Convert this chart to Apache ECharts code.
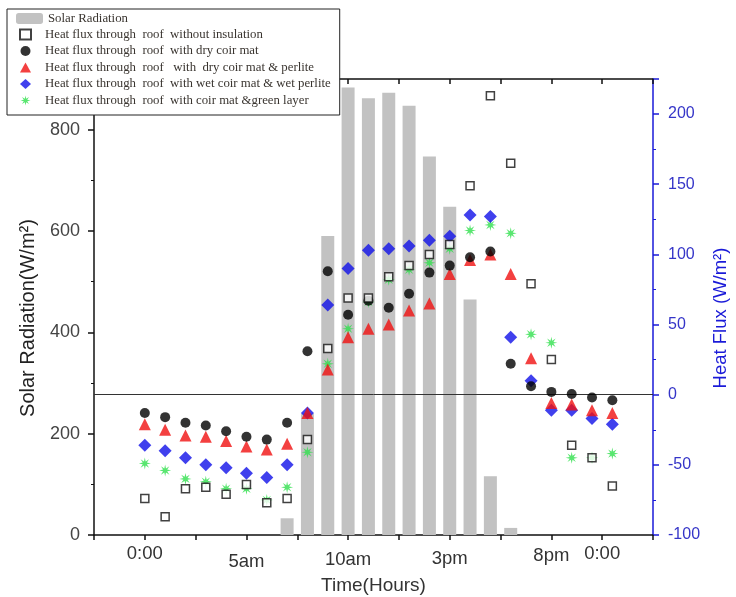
<!DOCTYPE html>
<html>
<head>
<meta charset="utf-8">
<script src="https://cdn.jsdelivr.net/npm/echarts@6/dist/echarts.min.js"></script>
<style>
  html, body { margin: 0; padding: 0; background: #fff; }
  #chart { width: 736px; height: 597px; }
</style>
</head>
<body>
<div id="chart"></div>
<script>
  // hour of day for every reading
  const hours = [0, 1, 2, 3, 4, 5, 6, 7, 8, 9, 10, 11, 12, 13, 14, 15, 16, 17, 18, 19, 20, 21, 22, 23]
  // solar radiation (W/m2)
  const solarRadiation = [0, 0, 0, 0, 0, 0, 0, 33, 240, 590, 883, 862, 873, 847, 747, 648, 465, 116, 14, 0, 0, 0, 0, 0]
  // heat flux (W/m2)
  const fluxNoInsulation = [-74, -87, -67, -66, -71, -64, -77, -74, -32, 33, 69, 69, 84, 92, 100, 107, 149, 213, 165, 79, 25, -36, -45, -65]
  const fluxDryCoir = [-13, -16, -20, -22, -26, -30, -32, -20, 31, 88, 57, 67, 62, 72, 87, 92, 98, 102, 22, 6, 2, 0.5, -2, -4]
  const fluxDryCoirPerlite = [-21, -25, -29, -30, -33, -37, -39, -35, -13, 18, 41, 47, 50, 60, 65, 86, 96, 100, 86, 26, -6, -7, -11, -13]
  const fluxWetCoirPerlite = [-36, -40, -45, -50, -52, -56, -59, -50, -13, 64, 90, 103, 104, 106, 110, 113, 128, 127, 41, 10, -11, -11, -17, -21]
  const fluxGreenLayer = [-49, -54, -60, -62, -67, -67, -75, -66, -41, 22, 47, 66, 82, 89, 94, 104, 117, 121, 115, 43, 37, -45, -45, -42]
  // x axis tick labels
  const tickValues = [0, 5, 10, 15, 20, 22.5]
  const tickLabels = ['0:00', '5am', '10am', '3pm', '8pm', '0:00']

  const names = [
    'Solar Radiation',
    'Heat flux through  roof  without insulation',
    'Heat flux through  roof  with dry coir mat',
    'Heat flux through  roof   with  dry coir mat & perlite',
    'Heat flux through  roof  with wet coir mat & wet perlite',
    'Heat flux through  roof  with coir mat &green layer'
  ]

  function pairs(arr) {
    return hours.map((h, i) => [h, arr[i]])
  }

  // asterisk-like symbol
  function starPath(n, ro, ri) {
    let d = ''
    for (let k = 0; k < 2 * n; k++) {
      const r = k % 2 ? ri : ro
      const a = Math.PI * k / n - Math.PI / 2
      d += (k ? 'L' : 'M') + (r * Math.cos(a) + ro).toFixed(2) + ' ' + (r * Math.sin(a) + ro).toFixed(2)
    }
    return 'path://' + d + 'Z'
  }

  const blue = '#1a1ad8'
  const legendText = { fontFamily: 'Liberation Serif', fontSize: 12.8, color: '#3a3530' }
  // the time labels in the original sit at slightly different heights
  const labelDrop = [0, 8, 6, 5, 2, 0]
  const xRich = {}
  labelDrop.forEach((d, k) => {
    xRich['t' + k] = { fontFamily: 'Liberation Sans', fontSize: 18.5, color: '#333', padding: [d, 0, 0, 0] }
  })

  const chart = echarts.init(document.getElementById('chart'))

  const option = {
    animation: false,
    backgroundColor: '#fff',
    legend: [{
      // box with the heat flux entries
      orient: 'vertical',
      left: 7,
      top: 9,
      padding: [19, 9, 8, 12],
      itemGap: 3.5,
      itemWidth: 11,
      itemHeight: 10,
      backgroundColor: '#fff',
      borderColor: '#222',
      borderWidth: 1,
      z: 10,
      textStyle: Object.assign({ padding: [0, 0, 0, 9] }, legendText),
      data: names.slice(1)
    }, {
      // solar radiation entry on top of the box
      orient: 'vertical',
      left: 16,
      top: 12,
      padding: 0,
      itemWidth: 27,
      itemHeight: 11,
      z: 11,
      textStyle: legendText,
      data: names.slice(0, 1)
    }],
    grid: { left: 94, right: 83, top: 79, bottom: 62, outerBoundsMode: 'none' },
    xAxis: [{
      type: 'value',
      min: -2.5,
      max: 25,
      interval: 2.5,
      name: 'Time(Hours)',
      nameLocation: 'middle',
      nameGap: 40,
      nameTextStyle: { fontFamily: 'Liberation Sans', fontSize: 19, color: '#333' },
      axisLine: { onZero: false, lineStyle: { color: '#111', width: 1.5 } },
      axisTick: { length: 5, lineStyle: { color: '#111', width: 1.5 } },
      splitLine: { show: false },
      axisLabel: {
        margin: 9,
        fontFamily: 'Liberation Sans',
        fontSize: 18.5,
        color: '#333',
        rich: xRich,
        formatter: v => {
          const k = tickValues.indexOf(v)
          return k >= 0 ? '{t' + k + '|' + tickLabels[k] + '}' : ''
        }
      }
    }, {
      type: 'value',
      position: 'top',
      min: -2.5,
      max: 25,
      interval: 2.5,
      axisLine: { onZero: false, lineStyle: { color: '#111', width: 1.5 } },
      axisTick: { inside: true, length: 5, lineStyle: { color: '#111', width: 1.5 } },
      axisLabel: { show: false },
      splitLine: { show: false }
    }],
    yAxis: [{
      type: 'value',
      min: 0,
      max: 900,
      interval: 200,
      name: 'Solar Radiation(W/m²)',
      nameLocation: 'middle',
      nameGap: 56,
      nameRotate: 90,
      nameTextStyle: { fontFamily: 'Liberation Sans', fontSize: 20, color: '#222', padding: [0, 22, 0, 0] },
      axisLine: { show: true, onZero: false, lineStyle: { color: '#111', width: 1.5 } },
      axisTick: { length: 6, lineStyle: { color: '#111', width: 1.5 } },
      minorTick: { show: true, splitNumber: 2, length: 3, lineStyle: { color: '#111' } },
      splitLine: { show: false },
      axisLabel: {
        margin: 14,
        showMaxLabel: false,
        fontFamily: 'Liberation Sans',
        fontSize: 18,
        color: '#444'
      }
    }, {
      type: 'value',
      position: 'right',
      min: -100,
      max: 225,
      interval: 50,
      name: 'Heat Flux (W/m²)',
      nameLocation: 'middle',
      nameGap: 47,
      nameRotate: 90,
      nameTextStyle: { fontFamily: 'Liberation Sans', fontSize: 18.5, color: blue, padding: [0, 22, 0, 0] },
      axisLine: { show: true, onZero: false, lineStyle: { color: blue, width: 1.5 } },
      axisTick: { length: 6, lineStyle: { color: blue, width: 1.5 } },
      minorTick: { show: true, splitNumber: 2, length: 3, lineStyle: { color: blue } },
      splitLine: { show: false },
      axisLabel: {
        margin: 15,
        showMaxLabel: false,
        fontFamily: 'Liberation Sans',
        fontSize: 16,
        color: '#3535c8'
      }
    }],
    series: [{
      name: names[0],
      type: 'bar',
      yAxisIndex: 0,
      barWidth: 13,
      itemStyle: { color: '#c2c2c2' },
      data: pairs(solarRadiation)
    }, {
      name: names[5],
      type: 'scatter',
      yAxisIndex: 1,
      symbol: starPath(8, 6, 2.2),
      symbolSize: 12,
      itemStyle: { color: '#2fe04c' },
      data: pairs(fluxGreenLayer),
      z: 3
    }, {
      name: names[4],
      type: 'scatter',
      yAxisIndex: 1,
      symbol: 'diamond',
      symbolSize: 13,
      itemStyle: { color: '#1010e8' },
      data: pairs(fluxWetCoirPerlite),
      z: 4
    }, {
      name: names[3],
      type: 'scatter',
      yAxisIndex: 1,
      symbol: 'triangle',
      symbolSize: 12,
      itemStyle: { color: '#f01010' },
      data: pairs(fluxDryCoirPerlite),
      z: 5
    }, {
      name: names[2],
      type: 'scatter',
      yAxisIndex: 1,
      symbol: 'circle',
      symbolSize: 10,
      itemStyle: { color: '#000' },
      data: pairs(fluxDryCoir),
      markLine: {
        silent: true,
        symbol: 'none',
        label: { show: false },
        lineStyle: { color: '#333', width: 1, type: 'solid' },
        data: [{ yAxis: 0 }]
      },
      z: 6
    }, {
      name: names[1],
      type: 'scatter',
      yAxisIndex: 1,
      symbol: 'rect',
      symbolSize: 8,
      itemStyle: { color: '#fff', borderColor: '#111', borderWidth: 1.5 },
      data: pairs(fluxNoInsulation),
      z: 7
    }]
  }

  chart.setOption(option)
</script>
</body>
</html>
